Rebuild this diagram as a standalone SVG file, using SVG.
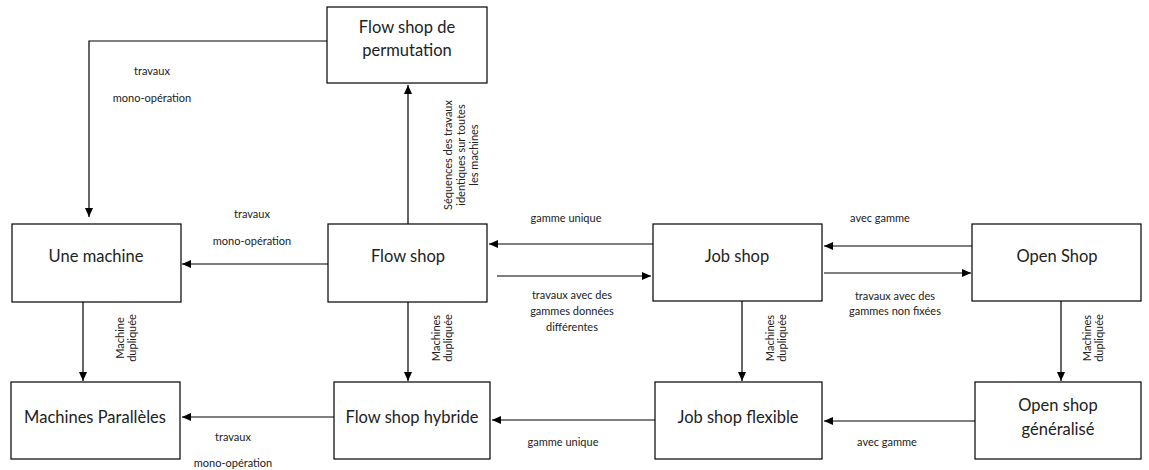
<svg xmlns="http://www.w3.org/2000/svg" width="1149" height="470" viewBox="0 0 1149 470">
<defs>
<marker id="arr" markerWidth="10" markerHeight="10" refX="9" refY="5" orient="auto" markerUnits="userSpaceOnUse">
<path d="M0,1 L9,5 L0,9 Z" fill="#000"/>
</marker>
<style>
.box{fill:#fff;stroke:#000;stroke-width:1.2}
.nt{font-family:Lato,"Liberation Sans",sans-serif;font-size:16.5px;fill:#222;text-anchor:middle}
.lb{font-family:Lato,"Liberation Sans",sans-serif;font-size:11px;fill:#222;text-anchor:middle}
.c{fill:none;stroke:#000;stroke-width:1.2;marker-end:url(#arr)}
</style>
</defs>
<rect width="1149" height="470" fill="#fff"/>
<g id="connectors">
<path class="c" d="M327,41 H89 V217"/>
<path class="c" d="M408,224 V85"/>
<path class="c" d="M328,264 H182"/>
<path class="c" d="M653,244 H489"/>
<path class="c" d="M497,276 H651"/>
<path class="c" d="M972,246 H824"/>
<path class="c" d="M824,273 H971"/>
<path class="c" d="M83,302 V381"/>
<path class="c" d="M408,302 V381"/>
<path class="c" d="M742,301 V381"/>
<path class="c" d="M1061,301 V381"/>
<path class="c" d="M334,417 H182"/>
<path class="c" d="M655,420 H492"/>
<path class="c" d="M975,421 H824"/>
</g>
<g id="labels">
<text class="lb" x="152" y="75">travaux</text>
<text class="lb" x="152" y="102">mono-opération</text>
<text class="lb" transform="translate(452,155) rotate(-90)">Séquences des travaux</text>
<text class="lb" transform="translate(465,155) rotate(-90)">identiques sur toutes</text>
<text class="lb" transform="translate(478,155) rotate(-90)">les machines</text>
<text class="lb" x="252" y="218">travaux</text>
<text class="lb" x="252" y="245">mono-opération</text>
<text class="lb" x="566" y="222">gamme unique</text>
<text class="lb" x="572" y="299">travaux avec des</text>
<text class="lb" x="572" y="315">gammes données</text>
<text class="lb" x="572" y="331">différentes</text>
<text class="lb" x="880" y="222">avec gamme</text>
<text class="lb" x="895" y="300">travaux avec des</text>
<text class="lb" x="895" y="315">gammes non fixées</text>
<text class="lb" transform="translate(124,338) rotate(-90)">Machine</text>
<text class="lb" transform="translate(136,338) rotate(-90)">dupliquée</text>
<text class="lb" transform="translate(440,338) rotate(-90)">Machines</text>
<text class="lb" transform="translate(452,338) rotate(-90)">dupliquée</text>
<text class="lb" transform="translate(774,338) rotate(-90)">Machines</text>
<text class="lb" transform="translate(786,338) rotate(-90)">dupliquée</text>
<text class="lb" transform="translate(1091,338) rotate(-90)">Machines</text>
<text class="lb" transform="translate(1103,338) rotate(-90)">dupliquée</text>
<text class="lb" x="233" y="441">travaux</text>
<text class="lb" x="233" y="467">mono-opération</text>
<text class="lb" x="563" y="446">gamme unique</text>
<text class="lb" x="887" y="446">avec gamme</text>
</g>
<g id="n-permutation"><rect class="box" x="327" y="7" width="160" height="76"/><text class="nt" x="407" y="33">Flow shop de</text><text class="nt" x="407" y="56">permutation</text></g>
<g id="n-une-machine"><rect class="box" x="12" y="224" width="169" height="78"/><text class="nt" x="96" y="262">Une machine</text></g>
<g id="n-flow-shop"><rect class="box" x="328" y="224" width="159" height="78"/><text class="nt" x="408" y="262">Flow shop</text></g>
<g id="n-job-shop"><rect class="box" x="653" y="224" width="169" height="77"/><text class="nt" x="737" y="262">Job shop</text></g>
<g id="n-open-shop"><rect class="box" x="972" y="224" width="169" height="77"/><text class="nt" x="1057" y="262">Open Shop</text></g>
<g id="n-machines-paralleles"><rect class="box" x="11" y="382" width="169" height="77"/><text class="nt" x="95" y="423">Machines Parallèles</text></g>
<g id="n-flow-shop-hybride"><rect class="box" x="334" y="382" width="156" height="77"/><text class="nt" x="412" y="423">Flow shop hybride</text></g>
<g id="n-job-shop-flexible"><rect class="box" x="655" y="382" width="167" height="77"/><text class="nt" x="738" y="423">Job shop flexible</text></g>
<g id="n-open-shop-generalise"><rect class="box" x="975" y="382" width="166" height="77"/><text class="nt" x="1058" y="411">Open shop</text><text class="nt" x="1058" y="435">généralisé</text></g>
</svg>
